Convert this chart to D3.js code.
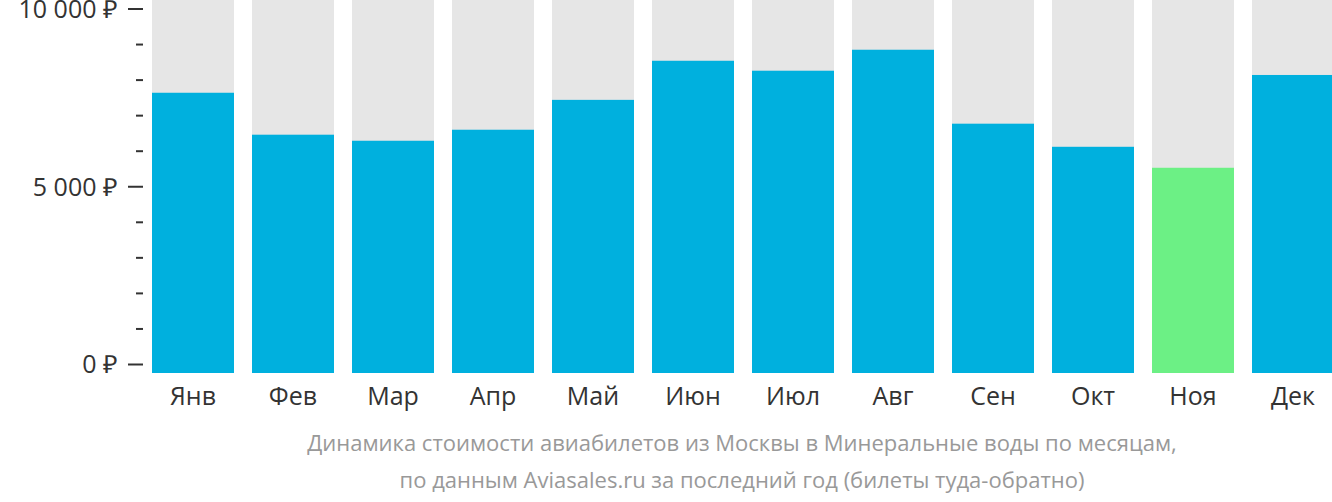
<!DOCTYPE html>
<html>
<head>
<meta charset="utf-8">
<script src="https://cdn.jsdelivr.net/npm/d3@7"></script>
<style>
  body { margin: 0; background: #fff; }
  svg { display: block; }
  svg text { font-family: "Open Sans", sans-serif; }
</style>
</head>
<body>
<div id="chart"></div>
<script>
  // months and prices (rub)
  var months = ["Янв", "Фев", "Мар", "Апр", "Май", "Июн", "Июл", "Авг", "Сен", "Окт", "Ноя", "Дек"];
  var prices = [7630, 6450, 6280, 6590, 7430, 8530, 8250, 8840, 6760, 6110, 5520, 8130];
  var minMonth = "Ноя";
  var yTicks = [0, 5000, 10000];
  var yMinorTicks = [1000, 2000, 3000, 4000, 6000, 7000, 8000, 9000];
  var caption = ["Динамика стоимости авиабилетов из Москвы в Минеральные воды по месяцам,",
                 "по данным Aviasales.ru за последний год (билеты туда-обратно)"];

  var w = 1332, h = 502;
  var barBottom = 373;

  var svg = d3.select("#chart").append("svg")
    .attr("width", w)
    .attr("height", h);

  var xScale = d3.scaleBand()
    .domain(months)
    .range([143, 1343])
    .paddingInner(0.18)
    .paddingOuter(0.09);

  var yScale = d3.scaleLinear()
    .domain([0, 10000])
    .range([364, 8.5]);

  // background bars
  svg.append("g").selectAll("rect")
    .data(months)
    .enter()
    .append("rect")
    .attr("x", function(d) { return xScale(d); })
    .attr("y", 0)
    .attr("width", xScale.bandwidth())
    .attr("height", barBottom)
    .attr("fill", "#e6e6e6");

  // price bars
  svg.append("g").selectAll("rect")
    .data(prices)
    .enter()
    .append("rect")
    .attr("x", function(d, i) { return xScale(months[i]); })
    .attr("y", function(d) { return yScale(d); })
    .attr("width", xScale.bandwidth())
    .attr("height", function(d) { return barBottom - yScale(d); })
    .attr("fill", function(d, i) { return months[i] === minMonth ? "#6cf085" : "#00b0de"; });

  // y axis, major ticks
  var yAxis = d3.axisLeft(yScale)
    .tickValues(yTicks)
    .tickSize(15)
    .tickPadding(10)
    .tickFormat(function(d) { return d3.format(",")(d).replace(/,/g, " ") + " ₽"; });

  var gy = svg.append("g")
    .attr("transform", "translate(143,0)")
    .call(yAxis)
    .attr("font-family", null);
  gy.select(".domain").remove();
  gy.selectAll("line").attr("stroke", "#333").attr("stroke-width", 2);
  gy.selectAll("text").attr("fill", "#333").style("font-size", "25px").attr("dy", "0.35em");

  // minor ticks
  var yMinor = d3.axisLeft(yScale)
    .tickValues(yMinorTicks)
    .tickSize(7)
    .tickFormat("");
  var gm = svg.append("g")
    .attr("transform", "translate(143,0)")
    .call(yMinor);
  gm.select(".domain").remove();
  gm.selectAll("line").attr("stroke", "#333").attr("stroke-width", 2);

  // x axis
  var xAxis = d3.axisBottom(xScale).tickSize(0).tickPadding(14);
  var gx = svg.append("g")
    .attr("transform", "translate(0," + barBottom + ")")
    .call(xAxis)
    .attr("font-family", null);
  gx.select(".domain").remove();
  gx.selectAll("text").attr("fill", "#333").style("font-size", "25px");

  // caption
  svg.append("g").selectAll("text")
    .data(caption)
    .enter()
    .append("text")
    .attr("x", 742)
    .attr("y", function(d, i) { return 451 + i * 37; })
    .attr("text-anchor", "middle")
    .attr("fill", "#999")
    .style("font-size", "22px")
    .text(function(d) { return d; });
</script>
</body>
</html>
